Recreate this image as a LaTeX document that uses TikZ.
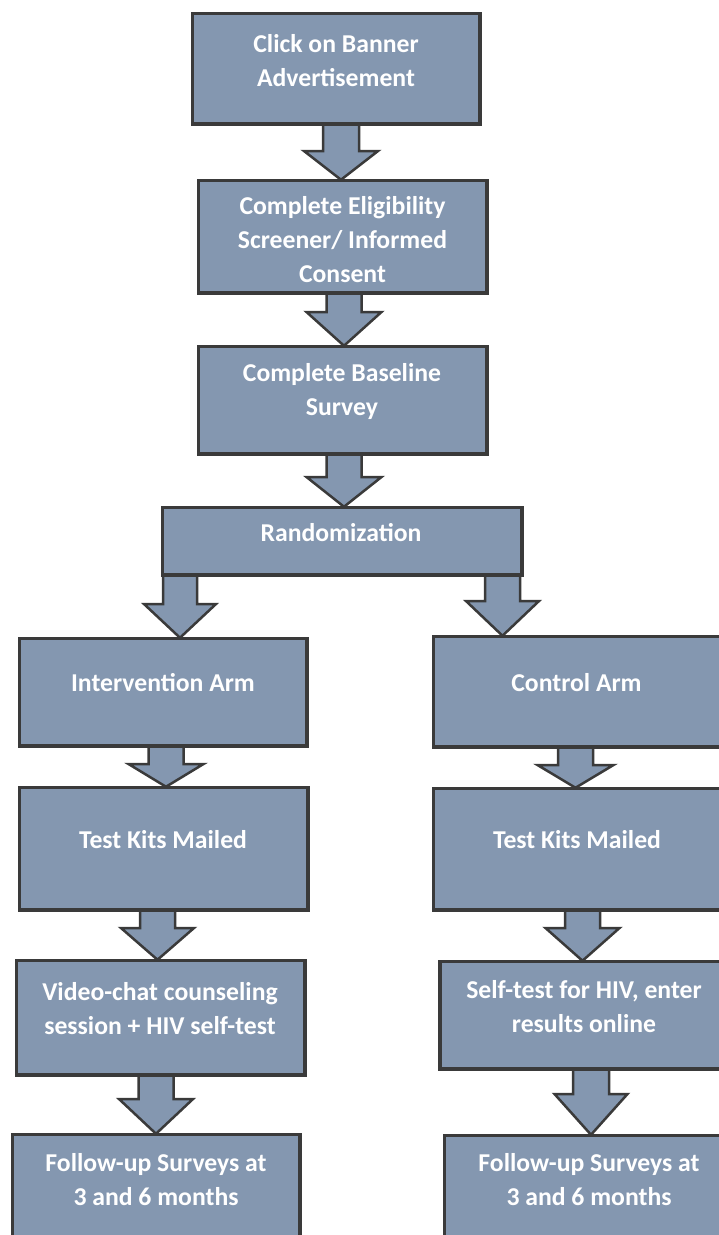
\documentclass[tikz,border=0pt]{standalone}
\usepackage{fontspec}
\setmainfont{Carlito}
\definecolor{boxfill}{HTML}{8497B0}
\definecolor{boxline}{HTML}{3A3A3A}
\newcommand\blockarrow[6]{% #1 source, #2 target, #3 centre x, #4 head base y, #5 half shaft, #6 half head
  \draw[barrow] ({#3-#5},0 |- #1.south) -- ({#3-#5},#4) -- ({#3-#6},#4) -- (#3,0 |- #2.north)
    -- ({#3+#6},#4) -- ({#3+#5},#4) -- ({#3+#5},0 |- #1.south) -- cycle;}
\begin{document}
\begin{tikzpicture}[x=1pt,y=-1pt,
  box/.style={draw=boxline,fill=boxfill,line width=2.5pt,rectangle,inner sep=0pt},
  barrow/.style={draw=boxline,fill=boxfill,line width=2.5pt,line join=miter},
  txt/.style={text=white,font=\fontsize{25.7}{34}\selectfont\bfseries,align=center,inner sep=0pt}]
\useasboundingbox (0,0) rectangle (719,1235);
\clip (0,0) rectangle (719,1235);
% boxes as nodes
\node[box,minimum width=286pt,minimum height=109pt] (b1) at (336,68.5) {};
\node[box,minimum width=287pt,minimum height=111pt] (b2) at (342.5,236.5) {};
\node[box,minimum width=287pt,minimum height=106pt] (b3) at (342.5,400) {};
\node[box,minimum width=358pt,minimum height=66pt] (rnd) at (342,541) {};
\node[box,minimum width=286pt,minimum height=106pt] (int) at (163,692) {};
\node[box,minimum width=286pt,minimum height=109pt] (ctl) at (577,691.5) {};
\node[box,minimum width=287pt,minimum height=121pt] (tkl) at (163.5,848.5) {};
\node[box,minimum width=286pt,minimum height=120pt] (tkr) at (577,849) {};
\node[box,minimum width=287pt,minimum height=113pt] (vid) at (160.5,1017.5) {};
\node[box,minimum width=287pt,minimum height=106pt] (self) at (584,1015) {};
\node[box,minimum width=286pt,minimum height=124pt] (ful) at (156,1197) {};
\node[box,minimum width=288pt,minimum height=124pt] (fur) at (589,1198) {};
% arrows
\blockarrow{b1}{b2}{341}{151}{18}{37}
\blockarrow{b2}{b3}{344}{312}{17.5}{37.5}
\blockarrow{b3}{rnd}{344}{477}{17.5}{37.5}
\blockarrow{rnd}{int}{180}{604}{17}{36}
\blockarrow{rnd}{ctl}{502.5}{601}{17.5}{36.5}
\blockarrow{int}{tkl}{166}{764}{17.5}{37.5}
\blockarrow{ctl}{tkr}{575.5}{765}{17.5}{38}
\blockarrow{tkl}{vid}{157.5}{928}{17.5}{36.5}
\blockarrow{tkr}{self}{582.5}{928}{17.5}{37}
\blockarrow{vid}{ful}{156}{1099}{17.5}{37}
\blockarrow{self}{fur}{591}{1094}{18}{36.5}
% redraw box outlines over the arrow shafts
\foreach \n in {b1,b2,b3,rnd,int,ctl,tkl,tkr,vid,self,ful,fur}
  \draw[boxline,line width=2.5pt] (\n.north west) rectangle (\n.south east);
% texts
\node[txt] (t1) at (336,60.5) {Click on Banner\\Advertisement};
\node[txt] (t2) at (342.5,240) {Complete Eligibility\\Screener/ Informed\\Consent};
\node[txt] (t3) at (342,391.5) {Complete Baseline\\Survey};
\node[txt] (trnd) at (341,533) {Randomization};
\node[txt] (tint) at (163,683) {Intervention Arm};
\node[txt] (tctl) at (576.5,683) {Control Arm};
\node[txt] (ttkl) at (163,840) {Test Kits Mailed};
\node[txt] (ttkr) at (577,840) {Test Kits Mailed};
\node[txt] (tvid) at (160,1008.5) {Video-chat counseling\\session + HIV self-test};
\node[txt] (tself) at (584,1006.5) {Self-test for HIV, enter\\results online};
\node[txt] (tful) at (156,1180) {Follow-up Surveys at\\3 and 6 months};
\node[txt] (tfur) at (589,1180) {Follow-up Surveys at\\3 and 6 months};
\end{tikzpicture}
\end{document}
